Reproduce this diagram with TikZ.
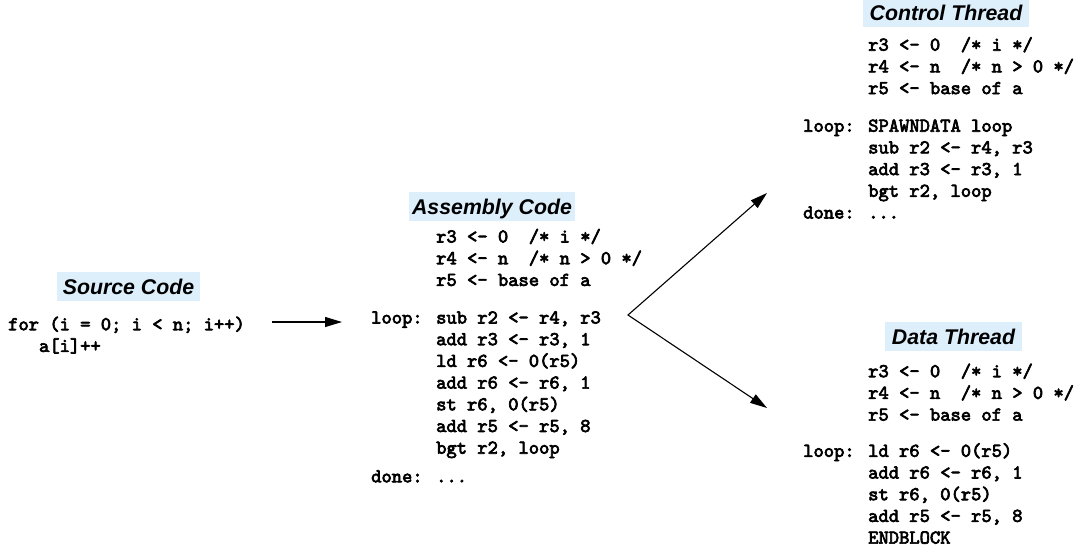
\documentclass[tikz,border=0pt]{standalone}
\usepackage{fontspec}
\setmainfont{Liberation Sans}
\newfontfamily\titlefont{Liberation Sans}
\newfontfamily\codefont{lmmono10-regular.otf}[FakeBold=3.4]
\usetikzlibrary{arrows.meta}
\definecolor{titlebg}{RGB}{222,239,252}
% label placed in the gutter left of the code column
\newcommand\lbl[1]{\llap{\makebox[65pt][l]{#1}}}
\tikzset{
  codeblock/.style={anchor=north west, inner sep=0pt, align=left,
    font={\codefont\fontsize{19.6pt}{21.7pt}\selectfont}},
  titlebox/.style={fill=titlebg, inner sep=0pt, minimum height=29pt,
    text height=15.25pt, text depth=0pt,
    font={\titlefont\bfseries\itshape\fontsize{21.3pt}{25pt}\selectfont}},
  >={Triangle[length=17pt,width=10pt]},
  flow/.style={line width=1.1pt},
}
\begin{document}
\begin{tikzpicture}[x=1pt,y=-1pt]
\clip (0,0) rectangle (1081,552);

% titles
\node[titlebox, minimum width=143pt] (srcT)  at (128.5,286.5) {Source Code};
\node[titlebox, minimum width=166pt] (asmT)  at (492,206.5)   {Assembly Code};
\node[titlebox, minimum width=166pt] (ctrlT) at (946,12.5)    {Control Thread};
\node[titlebox, minimum width=137pt] (dataT) at (953.5,336.5) {Data Thread};

% source code
\node[codeblock] (src) at (8,314.8) {%
\strut for (i = 0; i < n; i++)\\
~~~a[i]++};

% assembly code
\node[codeblock] (asm) at (436,227.1) {%
\strut r3 <- 0~~/* i */\\
r4 <- n~~/* n > 0 */\\
r5 <- base of a\\[15.9pt]
\lbl{loop:}sub r2 <- r4, r3\\
add r3 <- r3, 1\\
ld r6 <- 0(r5)\\
add r6 <- r6, 1\\
st r6, 0(r5)\\
add r5 <- r5, 8\\
bgt r2, loop\\[6.9pt]
\lbl{done:}...};

% control thread
\node[codeblock] (ctrl) at (868,35.3) {%
\strut r3 <- 0~~/* i */\\
r4 <- n~~/* n > 0 */\\
r5 <- base of a\\[15.9pt]
\lbl{loop:}SPAWNDATA loop\\
sub r2 <- r4, r3\\
add r3 <- r3, 1\\
bgt r2, loop\\
\lbl{done:}...};

% data thread
\node[codeblock] (data) at (868,361.8) {%
\strut r3 <- 0~~/* i */\\
r4 <- n~~/* n > 0 */\\
r5 <- base of a\\[14.5pt]
\lbl{loop:}ld r6 <- 0(r5)\\
add r6 <- r6, 1\\
st r6, 0(r5)\\
add r5 <- r5, 8\\
ENDBLOCK};

% connectors
\coordinate (srcTail) at (272,322);
\coordinate (asmIn)   at (342,322);
\coordinate (fork)    at (628,315);
\coordinate (ctrlIn)  at (767,193);
\coordinate (dataIn)  at (767,408);

\draw[flow, ->] (srcTail) -- (asmIn);
\draw[flow, <->] (ctrlIn) -- (fork) -- (dataIn);
\end{tikzpicture}
\end{document}
